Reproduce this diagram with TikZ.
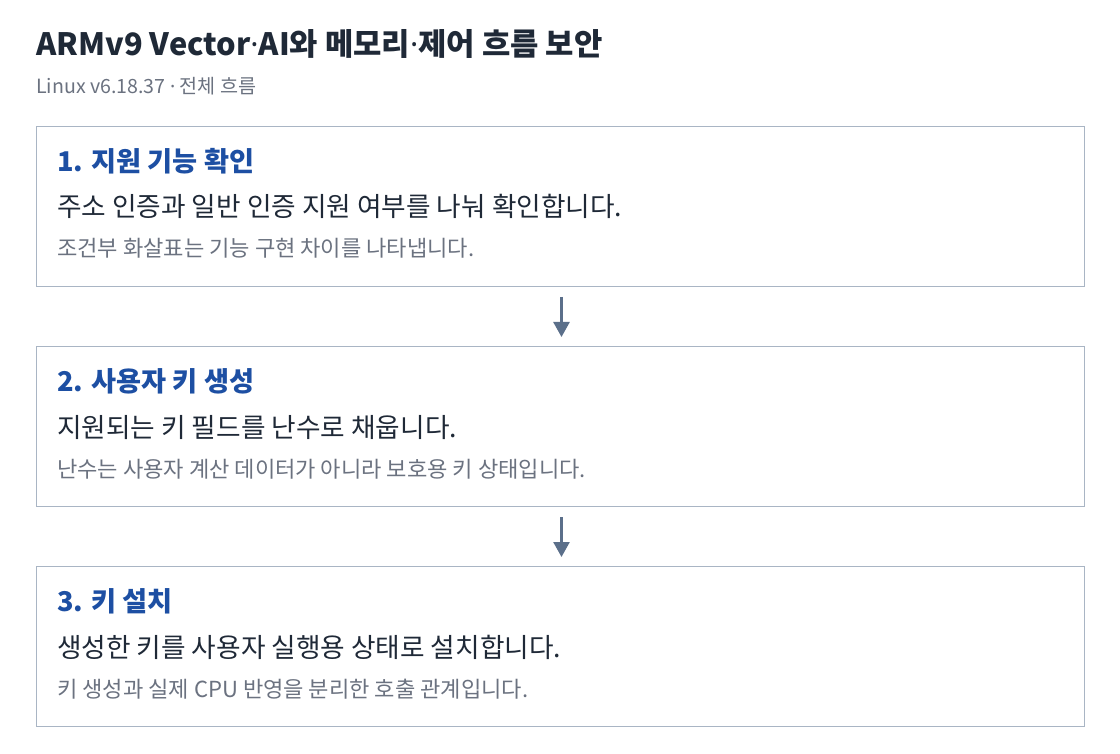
\documentclass[tikz,border=0pt]{standalone}
\usepackage{fontspec}
\setmainfont{Noto Sans CJK KR}
\newfontfamily\dotfont{Noto Sans}
\newcommand{\mdot}{{\dotfont ·}}
\usetikzlibrary{arrows.meta}
\definecolor{titlec}{HTML}{1F2937}
\definecolor{subc}{HTML}{6B7280}
\definecolor{bluec}{HTML}{1D4FA3}
\definecolor{bodyc}{HTML}{1F2937}
\definecolor{notec}{HTML}{6B7280}
\definecolor{borderc}{HTML}{A9B5C4}
\definecolor{arrowc}{HTML}{5B6F8A}
\tikzset{
  stepbox/.style={draw=borderc, line width=1pt, rectangle, minimum width=1048pt, minimum height=160pt, anchor=north west, inner sep=0pt},
  ttl/.style={anchor=base west, inner sep=0pt, font=\fontsize{30.8}{36}\selectfont\bfseries, text=titlec},
  sub/.style={anchor=base west, inner sep=0pt, font=\fontsize{19.6}{23}\selectfont, text=subc},
  head/.style={anchor=base west, inner sep=0pt, font=\fontsize{27.2}{31}\selectfont\bfseries, text=bluec},
  bodyt/.style={anchor=base west, inner sep=0pt, font=\fontsize{26.7}{31}\selectfont, text=bodyc},
  notet/.style={anchor=base west, inner sep=0pt, font=\fontsize{22.1}{26}\selectfont, text=notec},
  flow/.style={draw=arrowc, line width=2.5pt, -{Triangle[width=16pt,length=15pt]}}
}
\begin{document}
\begin{tikzpicture}[x=1pt,y=-1pt]
\useasboundingbox (0,0) rectangle (1120,754);
\fill[white] (0,0) rectangle (1120,754);
\node[ttl] (title) at (36,56) {ARMv9 Vector\mdot AI와 메모리\mdot 제어 흐름 보안};
\node[sub] (subtitle) at (36,94) {Linux v6.18.37 \mdot{} 전체 흐름};

\node[stepbox] (b1) at (36,126) {};
\node[stepbox] (b2) at (36,346) {};
\node[stepbox] (b3) at (36,566) {};

\node[head] (h1) at ([xshift=21pt,yshift=-45.5pt]b1.north west) {1. 지원 기능 확인};
\node[bodyt] (t1) at ([xshift=21pt,yshift=-91pt]b1.north west) {주소 인증과 일반 인증 지원 여부를 나눠 확인합니다.};
\node[notet] (n1) at ([xshift=21pt,yshift=-131pt]b1.north west) {조건부 화살표는 기능 구현 차이를 나타냅니다.};

\node[head] (h2) at ([xshift=21pt,yshift=-45.5pt]b2.north west) {2. 사용자 키 생성};
\node[bodyt] (t2) at ([xshift=21pt,yshift=-91pt]b2.north west) {지원되는 키 필드를 난수로 채웁니다.};
\node[notet] (n2) at ([xshift=21pt,yshift=-131pt]b2.north west) {난수는 사용자 계산 데이터가 아니라 보호용 키 상태입니다.};

\node[head] (h3) at ([xshift=21pt,yshift=-45.5pt]b3.north west) {3. 키 설치};
\node[bodyt] (t3) at ([xshift=21pt,yshift=-91pt]b3.north west) {생성한 키를 사용자 실행용 상태로 설치합니다.};
\node[notet] (n3) at ([xshift=21pt,yshift=-131pt]b3.north west) {키 생성과 실제 CPU 반영을 분리한 호출 관계입니다.};

\draw[flow] ([xshift=1pt,yshift=-10pt]b1.south) -- ([xshift=1pt,yshift=9pt]b2.north);
\draw[flow] ([xshift=1pt,yshift=-10pt]b2.south) -- ([xshift=1pt,yshift=9pt]b3.north);
\end{tikzpicture}
\end{document}
